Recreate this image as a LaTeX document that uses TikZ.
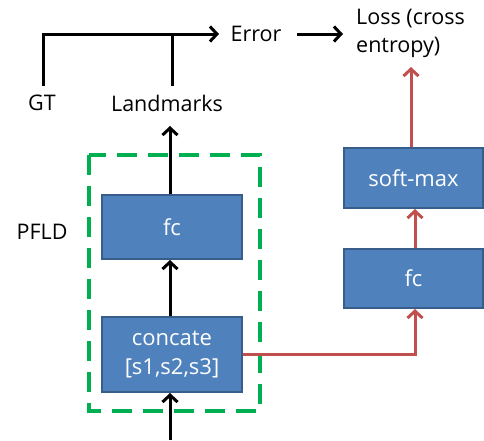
\documentclass[tikz,border=0pt]{standalone}
\usepackage{fontspec}
\setmainfont{Open Sans}
\usetikzlibrary{arrows.meta}
\definecolor{boxfill}{HTML}{4F81BD}
\definecolor{boxline}{HTML}{385D8A}
\definecolor{redline}{HTML}{C0504D}
\definecolor{greenline}{HTML}{00B050}
\begin{document}
\begin{tikzpicture}[x=1pt,y=-1pt,
  blk/.style={draw=boxline,line width=2pt,fill=boxfill,text=white,font=\fontsize{22}{29}\selectfont,inner sep=0pt,align=center},
  lbl/.style={font=\fontsize{21.5}{28}\selectfont,inner sep=0pt,align=left},
  blk arrow/.style={line width=3pt,-{Straight Barb[length=7pt,width=15pt,line width=3pt]}},
  red arrow/.style={draw=redline,line width=3pt,-{Straight Barb[length=7pt,width=15pt,line width=3pt]}}]
\useasboundingbox (0,0) rectangle (484,440);
% dashed PFLD box
\draw[greenline,line width=4pt,dash pattern=on 20pt off 11pt] (89,155) rectangle (260,411);
% blocks
\node[blk,minimum width=140pt,minimum height=64pt] (fc1) at (172,227) {fc};
\node[blk,minimum width=140pt,minimum height=75pt] (cc) at (172,354.5) {concate\\{}[s1,s2,s3]};
\node[blk,minimum width=139pt,minimum height=60pt] (sm) at (413.5,178) {soft-max};
\node[blk,minimum width=139pt,minimum height=59pt] (fc2) at (413.5,278.5) {fc};
% labels
\node[lbl] (gt) at (42,103) {GT};
\node[lbl] (lm) at (167,103) {Landmarks};
\node[lbl] (err) at (256,34) {Error};
\node[lbl,anchor=west] (loss) at (356,33) {Loss (cross\\entropy)};
\node[lbl] (pfld) at (42,232) {PFLD};
% coordinates
\coordinate (in) at (170,440);
\coordinate (top) at (43,34);
\coordinate (lmt) at (172,34);
% black arrows
\draw[blk arrow] (in) -- (cc.south -| in);
\draw[blk arrow] (cc.north -| in) -- (fc1.south -| in);
\draw[blk arrow] (fc1.north -| in) -- (170,126);
\draw[line width=3pt] (43,86) -- (top) -- (lmt);
\draw[line width=3pt] (172,86) -- (lmt);
\draw[blk arrow] (lmt) -- (219,34);
\draw[blk arrow] (297,34) -- (343,34);
% red arrows
\draw[red arrow] (cc.east |- 0,354) -- (415,354) -- (fc2.south -| 415,0);
\draw[red arrow] (fc2.north -| 415,0) -- (sm.south -| 415,0);
\draw[red arrow] (sm.north -| 411,0) -- (411,67);
\end{tikzpicture}
\end{document}
